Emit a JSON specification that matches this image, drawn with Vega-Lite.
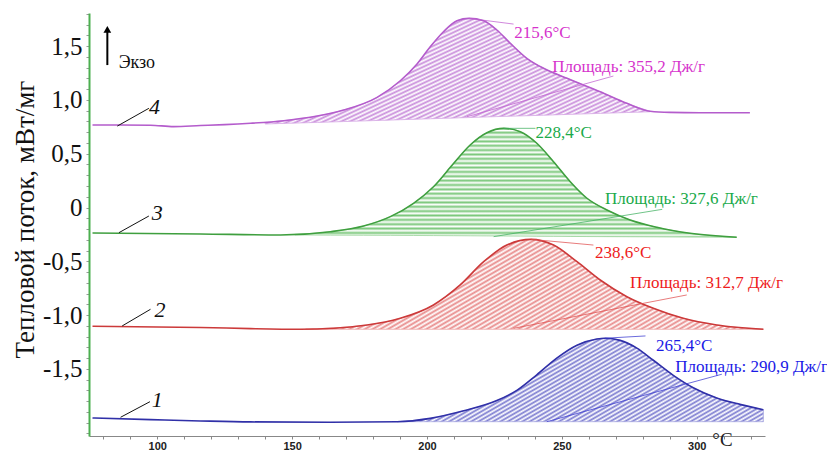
{
  "$schema": "https://vega.github.io/schema/vega-lite/v6.json",
  "width": 676,
  "height": 423,
  "autosize": {"type": "none"},
  "padding": {"left": 89, "top": 13, "right": 62, "bottom": 14},
  "background": "white",
  "config": {"view": {"stroke": null}, "font": "Liberation Serif"},
  "datasets": {
    "curves": [
      {"s":"4","T":76,"V":0.767},{"s":"4","T":86.4,"V":0.767},{"s":"4","T":97.5,"V":0.765},{"s":"4","T":106.1,"V":0.752},{"s":"4","T":116,"V":0.762},{"s":"4","T":125,"V":0.77},{"s":"4","T":134.6,"V":0.783},{"s":"4","T":146.9,"V":0.807},{"s":"4","T":159.3,"V":0.85},{"s":"4","T":169.1,"V":0.906},{"s":"4","T":181.5,"V":1.024},{"s":"4","T":190.1,"V":1.178},{"s":"4","T":196.3,"V":1.334},{"s":"4","T":201.2,"V":1.494},{"s":"4","T":206.1,"V":1.634},{"s":"4","T":211.1,"V":1.736},{"s":"4","T":215.6,"V":1.758},{"s":"4","T":221,"V":1.736},{"s":"4","T":225.9,"V":1.65},{"s":"4","T":230.9,"V":1.526},{"s":"4","T":237,"V":1.387},{"s":"4","T":243.2,"V":1.294},{"s":"4","T":251.9,"V":1.201},{"s":"4","T":264.2,"V":1.076},{"s":"4","T":274.1,"V":0.968},{"s":"4","T":282.7,"V":0.895},{"s":"4","T":290,"V":0.884},{"s":"4","T":301.2,"V":0.881},{"s":"4","T":319.7,"V":0.881},
      {"s":"3","T":76,"V":-0.237},{"s":"3","T":116,"V":-0.246},{"s":"3","T":145.7,"V":-0.255},{"s":"3","T":164.2,"V":-0.225},{"s":"3","T":176.5,"V":-0.172},{"s":"3","T":186.4,"V":-0.085},{"s":"3","T":195,"V":0.039},{"s":"3","T":202.4,"V":0.193},{"s":"3","T":209.9,"V":0.411},{"s":"3","T":216,"V":0.581},{"s":"3","T":222.2,"V":0.695},{"s":"3","T":228.4,"V":0.736},{"s":"3","T":234.6,"V":0.704},{"s":"3","T":240.7,"V":0.597},{"s":"3","T":246.9,"V":0.426},{"s":"3","T":253.1,"V":0.24},{"s":"3","T":259.3,"V":0.086},{"s":"3","T":266.7,"V":-0.023},{"s":"3","T":275.3,"V":-0.116},{"s":"3","T":285.2,"V":-0.184},{"s":"3","T":297.5,"V":-0.24},{"s":"3","T":314.8,"V":-0.277},
      {"s":"2","T":76,"V":-1.104},{"s":"2","T":116,"V":-1.115},{"s":"2","T":134.6,"V":-1.126},{"s":"2","T":153.1,"V":-1.132},{"s":"2","T":177.8,"V":-1.092},{"s":"2","T":190.1,"V":-1.03},{"s":"2","T":202.4,"V":-0.906},{"s":"2","T":212.3,"V":-0.72},{"s":"2","T":221,"V":-0.504},{"s":"2","T":229.6,"V":-0.349},{"s":"2","T":238.6,"V":-0.296},{"s":"2","T":246.9,"V":-0.349},{"s":"2","T":255.6,"V":-0.504},{"s":"2","T":264.2,"V":-0.674},{"s":"2","T":274.1,"V":-0.829},{"s":"2","T":283.9,"V":-0.937},{"s":"2","T":295,"V":-1.03},{"s":"2","T":307.4,"V":-1.092},{"s":"2","T":324.7,"V":-1.132},
      {"s":"1","T":76,"V":-1.956},{"s":"1","T":97.5,"V":-1.972},{"s":"1","T":116,"V":-1.984},{"s":"1","T":134.6,"V":-1.993},{"s":"1","T":164.2,"V":-1.996},{"s":"1","T":188.9,"V":-1.991},{"s":"1","T":201.2,"V":-1.96},{"s":"1","T":213.6,"V":-1.89},{"s":"1","T":225.9,"V":-1.795},{"s":"1","T":233.3,"V":-1.7},{"s":"1","T":240.7,"V":-1.555},{"s":"1","T":248.1,"V":-1.4},{"s":"1","T":255.6,"V":-1.28},{"s":"1","T":263,"V":-1.222},{"s":"1","T":266,"V":-1.215},{"s":"1","T":271.6,"V":-1.235},{"s":"1","T":277.8,"V":-1.307},{"s":"1","T":283.9,"V":-1.42},{"s":"1","T":291.3,"V":-1.56},{"s":"1","T":298.7,"V":-1.675},{"s":"1","T":307.4,"V":-1.77},{"s":"1","T":316,"V":-1.83},{"s":"1","T":324.7,"V":-1.88}
    ],
    "areas": [
      {"s":"4","T":140,"V":0.79,"B":0.776},{"s":"4","T":146.9,"V":0.807,"B":0.782},{"s":"4","T":159.3,"V":0.85,"B":0.791},{"s":"4","T":169.1,"V":0.906,"B":0.799},{"s":"4","T":181.5,"V":1.024,"B":0.809},{"s":"4","T":190.1,"V":1.178,"B":0.816},{"s":"4","T":196.3,"V":1.334,"B":0.821},{"s":"4","T":201.2,"V":1.494,"B":0.825},{"s":"4","T":206.1,"V":1.634,"B":0.829},{"s":"4","T":211.1,"V":1.736,"B":0.833},{"s":"4","T":215.6,"V":1.758,"B":0.836},{"s":"4","T":221,"V":1.736,"B":0.841},{"s":"4","T":225.9,"V":1.65,"B":0.845},{"s":"4","T":230.9,"V":1.526,"B":0.849},{"s":"4","T":237,"V":1.387,"B":0.853},{"s":"4","T":243.2,"V":1.294,"B":0.858},{"s":"4","T":251.9,"V":1.201,"B":0.865},{"s":"4","T":264.2,"V":1.076,"B":0.875},{"s":"4","T":274.1,"V":0.968,"B":0.883},{"s":"4","T":282.7,"V":0.895,"B":0.89},
      {"s":"3","T":151,"V":-0.25,"B":-0.255},{"s":"3","T":164.2,"V":-0.225,"B":-0.257},{"s":"3","T":176.5,"V":-0.172,"B":-0.258},{"s":"3","T":186.4,"V":-0.085,"B":-0.259},{"s":"3","T":195,"V":0.039,"B":-0.26},{"s":"3","T":202.4,"V":0.193,"B":-0.261},{"s":"3","T":209.9,"V":0.411,"B":-0.262},{"s":"3","T":216,"V":0.581,"B":-0.263},{"s":"3","T":222.2,"V":0.695,"B":-0.264},{"s":"3","T":228.4,"V":0.736,"B":-0.265},{"s":"3","T":234.6,"V":0.704,"B":-0.266},{"s":"3","T":240.7,"V":0.597,"B":-0.267},{"s":"3","T":246.9,"V":0.426,"B":-0.268},{"s":"3","T":253.1,"V":0.24,"B":-0.269},{"s":"3","T":259.3,"V":0.086,"B":-0.27},{"s":"3","T":266.7,"V":-0.023,"B":-0.271},{"s":"3","T":275.3,"V":-0.116,"B":-0.272},{"s":"3","T":285.2,"V":-0.184,"B":-0.273},{"s":"3","T":297.5,"V":-0.24,"B":-0.275},{"s":"3","T":314.8,"V":-0.277,"B":-0.277},
      {"s":"2","T":155,"V":-1.13,"B":-1.132},{"s":"2","T":177.8,"V":-1.092,"B":-1.132},{"s":"2","T":190.1,"V":-1.03,"B":-1.132},{"s":"2","T":202.4,"V":-0.906,"B":-1.132},{"s":"2","T":212.3,"V":-0.72,"B":-1.132},{"s":"2","T":221,"V":-0.504,"B":-1.132},{"s":"2","T":229.6,"V":-0.349,"B":-1.132},{"s":"2","T":238.6,"V":-0.296,"B":-1.132},{"s":"2","T":246.9,"V":-0.349,"B":-1.132},{"s":"2","T":255.6,"V":-0.504,"B":-1.132},{"s":"2","T":264.2,"V":-0.674,"B":-1.132},{"s":"2","T":274.1,"V":-0.829,"B":-1.132},{"s":"2","T":283.9,"V":-0.937,"B":-1.132},{"s":"2","T":295,"V":-1.03,"B":-1.132},{"s":"2","T":307.4,"V":-1.092,"B":-1.132},{"s":"2","T":324.7,"V":-1.132,"B":-1.132},
      {"s":"1","T":188.9,"V":-1.991,"B":-1.991},{"s":"1","T":201.2,"V":-1.96,"B":-1.991},{"s":"1","T":213.6,"V":-1.89,"B":-1.991},{"s":"1","T":225.9,"V":-1.795,"B":-1.991},{"s":"1","T":233.3,"V":-1.7,"B":-1.991},{"s":"1","T":240.7,"V":-1.555,"B":-1.991},{"s":"1","T":248.1,"V":-1.4,"B":-1.991},{"s":"1","T":255.6,"V":-1.28,"B":-1.991},{"s":"1","T":263,"V":-1.222,"B":-1.991},{"s":"1","T":266,"V":-1.215,"B":-1.991},{"s":"1","T":271.6,"V":-1.235,"B":-1.991},{"s":"1","T":277.8,"V":-1.307,"B":-1.991},{"s":"1","T":283.9,"V":-1.42,"B":-1.991},{"s":"1","T":291.3,"V":-1.56,"B":-1.991},{"s":"1","T":298.7,"V":-1.675,"B":-1.991},{"s":"1","T":307.4,"V":-1.77,"B":-1.991},{"s":"1","T":316,"V":-1.83,"B":-1.991},{"s":"1","T":324.7,"V":-1.88,"B":-1.991}
    ],
    "leaders": [
      {"s":"4","T":215.6,"V":1.758,"T2":232.1,"V2":1.705},
      {"s":"4","T":214.8,"V":0.844,"T2":269.1,"V2":1.222},
      {"s":"3","T":228.4,"V":0.736,"T2":240.2,"V2":0.736},
      {"s":"3","T":224.7,"V":-0.271,"T2":287.2,"V2":-0.017},
      {"s":"2","T":238.6,"V":-0.296,"T2":261.7,"V2":-0.349},
      {"s":"2","T":232.1,"V":-1.123,"T2":296.3,"V2":-0.813},
      {"s":"1","T":266,"V":-1.215,"T2":281,"V2":-1.194},
      {"s":"1","T":244.4,"V":-1.991,"T2":309.3,"V2":-1.55}
    ],
    "labels": [
      {"s":"4","T":232.3,"V":1.619,"text":"215,6°C"},
      {"s":"4","T":246.4,"V":1.306,"text":"Площадь: 355,2 Дж/г"},
      {"s":"3","T":240.2,"V":0.695,"text":"228,4°C"},
      {"s":"3","T":266.0,"V":0.076,"text":"Площадь: 327,6 Дж/г"},
      {"s":"2","T":262.3,"V":-0.426,"text":"238,6°C"},
      {"s":"2","T":275.3,"V":-0.705,"text":"Площадь: 312,7 Дж/г"},
      {"s":"1","T":284.9,"V":-1.284,"text":"265,4°C"},
      {"s":"1","T":292.0,"V":-1.48,"text":"Площадь: 290,9 Дж/г"}
    ],
    "numlines": [
      {"n":"4","T":85.2,"V":0.757,"T2":96.9,"V2":0.922},
      {"n":"3","T":85.8,"V":-0.234,"T2":96.9,"V2":-0.079},
      {"n":"2","T":87.0,"V":-1.101,"T2":97.5,"V2":-0.946},
      {"n":"1","T":86.4,"V":-1.95,"T2":97.3,"V2":-1.805}
    ],
    "nums": [
      {"n":"4","T":99.0,"V":0.935},
      {"n":"3","T":100.0,"V":-0.054},
      {"n":"2","T":101.0,"V":-0.953},
      {"n":"1","T":100.0,"V":-1.789}
    ],
    "exoline": [{"T":81.5,"V":1.324,"V2":1.64}],
    "exohead": [{"T":81.5,"V":1.655}],
    "exotext": [{"T":85.7,"V":1.343,"label":"Экзо"}]
  },
  "encoding": {
    "x": {"field": "T", "type": "quantitative", "scale": {"domain": [74.7, 325.3], "nice": false, "zero": false},
      "axis": {"title": "°C", "values": [80,90,100,110,120,130,140,150,160,170,180,190,200,210,220,230,240,250,260,270,280,290,300,310,320],
        "labelExpr": "datum.value % 50 === 0 ? datum.label : ''", "grid": false,
        "domainColor": "#888", "tickColor": "#888", "tickSize": 3, "labelPadding": 1,
        "labelFont": "Liberation Sans", "labelFontWeight": "bold", "labelFontSize": 11, "labelColor": "#222",
        "titleFont": "Liberation Serif", "titleFontSize": 19, "titleFontWeight": "normal", "titleColor": "#222",
        "titleX": 633, "titleY": 13, "titleAlign": "center", "titleBaseline": "bottom", "labelFlush": false, "labelOverlap": false}},
    "y": {"field": "V", "type": "quantitative", "scale": {"domain": [-2.124, 1.808], "nice": false, "zero": false},
      "axis": {"title": "Тепловой поток, мВт/мг", "values": [-2.1,-2,-1.9,-1.8,-1.7,-1.6,-1.5,-1.4,-1.3,-1.2,-1.1,-1,-0.9,-0.8,-0.7,-0.6,-0.5,-0.4,-0.3,-0.2,-0.1,0,0.1,0.2,0.3,0.4,0.5,0.6,0.7,0.8,0.9,1,1.1,1.2,1.3,1.4,1.5,1.6,1.7,1.8],
        "labelExpr": "abs(datum.value*2 - round(datum.value*2)) < 0.01 && abs(datum.value) < 1.6 ? (abs(datum.value) < 0.01 ? '0' : (datum.value < 0 ? '-' : '') + replace(format(abs(datum.value), '.1f'), '.', ',')) : ''",
        "grid": false, "domainColor": "#4caf50", "domainWidth": 2, "tickColor": "#999", "tickSize": 3, "labelPadding": 4,
        "labelFont": "Liberation Serif", "labelFontSize": 25, "labelColor": "#111", "labelOverlap": false, "labelFlush": false,
        "titleFont": "Liberation Serif", "titleFontSize": 27, "titleFontWeight": "normal", "titleColor": "#111",
        "titleX": -64, "titleY": 206, "titleAngle": -90, "titleAlign": "center", "titleBaseline": "middle"}}
  },
  "layer": [
    {
      "data": {"name": "areas"},
      "transform": [{"filter": "datum.s === '4'"}],
      "mark": {"type": "area", "interpolate": "monotone", "stroke": "#d6a8e4", "strokeWidth": 0.8,
        "fill": {"gradient": "linear", "x1": 0, "y1": 0, "x2": 1.18, "y2": 0.694, "stops": [
          {"offset":0,"color":"#c98ddb"},{"offset":0.0071,"color":"#fff"},{"offset":0.0143,"color":"#c98ddb"},{"offset":0.0214,"color":"#fff"},{"offset":0.0286,"color":"#c98ddb"},{"offset":0.0357,"color":"#fff"},{"offset":0.0429,"color":"#c98ddb"},{"offset":0.05,"color":"#fff"},{"offset":0.0571,"color":"#c98ddb"},{"offset":0.0643,"color":"#fff"},{"offset":0.0714,"color":"#c98ddb"},{"offset":0.0786,"color":"#fff"},{"offset":0.0857,"color":"#c98ddb"},{"offset":0.0929,"color":"#fff"},
          {"offset":0.1,"color":"#c98ddb"},{"offset":0.1071,"color":"#fff"},{"offset":0.1143,"color":"#c98ddb"},{"offset":0.1214,"color":"#fff"},{"offset":0.1286,"color":"#c98ddb"},{"offset":0.1357,"color":"#fff"},{"offset":0.1429,"color":"#c98ddb"},{"offset":0.15,"color":"#fff"},{"offset":0.1571,"color":"#c98ddb"},{"offset":0.1643,"color":"#fff"},{"offset":0.1714,"color":"#c98ddb"},{"offset":0.1786,"color":"#fff"},{"offset":0.1857,"color":"#c98ddb"},{"offset":0.1929,"color":"#fff"},
          {"offset":0.2,"color":"#c98ddb"},{"offset":0.2071,"color":"#fff"},{"offset":0.2143,"color":"#c98ddb"},{"offset":0.2214,"color":"#fff"},{"offset":0.2286,"color":"#c98ddb"},{"offset":0.2357,"color":"#fff"},{"offset":0.2429,"color":"#c98ddb"},{"offset":0.25,"color":"#fff"},{"offset":0.2571,"color":"#c98ddb"},{"offset":0.2643,"color":"#fff"},{"offset":0.2714,"color":"#c98ddb"},{"offset":0.2786,"color":"#fff"},{"offset":0.2857,"color":"#c98ddb"},{"offset":0.2929,"color":"#fff"},
          {"offset":0.3,"color":"#c98ddb"},{"offset":0.3071,"color":"#fff"},{"offset":0.3143,"color":"#c98ddb"},{"offset":0.3214,"color":"#fff"},{"offset":0.3286,"color":"#c98ddb"},{"offset":0.3357,"color":"#fff"},{"offset":0.3429,"color":"#c98ddb"},{"offset":0.35,"color":"#fff"},{"offset":0.3571,"color":"#c98ddb"},{"offset":0.3643,"color":"#fff"},{"offset":0.3714,"color":"#c98ddb"},{"offset":0.3786,"color":"#fff"},{"offset":0.3857,"color":"#c98ddb"},{"offset":0.3929,"color":"#fff"},
          {"offset":0.4,"color":"#c98ddb"},{"offset":0.4071,"color":"#fff"},{"offset":0.4143,"color":"#c98ddb"},{"offset":0.4214,"color":"#fff"},{"offset":0.4286,"color":"#c98ddb"},{"offset":0.4357,"color":"#fff"},{"offset":0.4429,"color":"#c98ddb"},{"offset":0.45,"color":"#fff"},{"offset":0.4571,"color":"#c98ddb"},{"offset":0.4643,"color":"#fff"},{"offset":0.4714,"color":"#c98ddb"},{"offset":0.4786,"color":"#fff"},{"offset":0.4857,"color":"#c98ddb"},{"offset":0.4929,"color":"#fff"},
          {"offset":0.5,"color":"#c98ddb"},{"offset":0.5071,"color":"#fff"},{"offset":0.5143,"color":"#c98ddb"},{"offset":0.5214,"color":"#fff"},{"offset":0.5286,"color":"#c98ddb"},{"offset":0.5357,"color":"#fff"},{"offset":0.5429,"color":"#c98ddb"},{"offset":0.55,"color":"#fff"},{"offset":0.5571,"color":"#c98ddb"},{"offset":0.5643,"color":"#fff"},{"offset":0.5714,"color":"#c98ddb"},{"offset":0.5786,"color":"#fff"},{"offset":0.5857,"color":"#c98ddb"},{"offset":0.5929,"color":"#fff"},
          {"offset":0.6,"color":"#c98ddb"},{"offset":0.6071,"color":"#fff"},{"offset":0.6143,"color":"#c98ddb"},{"offset":0.6214,"color":"#fff"},{"offset":0.6286,"color":"#c98ddb"},{"offset":0.6357,"color":"#fff"},{"offset":0.6429,"color":"#c98ddb"},{"offset":0.65,"color":"#fff"},{"offset":0.6571,"color":"#c98ddb"},{"offset":0.6643,"color":"#fff"},{"offset":0.6714,"color":"#c98ddb"},{"offset":0.6786,"color":"#fff"},{"offset":0.6857,"color":"#c98ddb"},{"offset":0.6929,"color":"#fff"},
          {"offset":0.7,"color":"#c98ddb"},{"offset":0.7071,"color":"#fff"},{"offset":0.7143,"color":"#c98ddb"},{"offset":0.7214,"color":"#fff"},{"offset":0.7286,"color":"#c98ddb"},{"offset":0.7357,"color":"#fff"},{"offset":0.7429,"color":"#c98ddb"},{"offset":0.75,"color":"#fff"},{"offset":0.7571,"color":"#c98ddb"},{"offset":0.7643,"color":"#fff"},{"offset":0.7714,"color":"#c98ddb"},{"offset":0.7786,"color":"#fff"},{"offset":0.7857,"color":"#c98ddb"},{"offset":0.7929,"color":"#fff"},
          {"offset":0.8,"color":"#c98ddb"},{"offset":0.8071,"color":"#fff"},{"offset":0.8143,"color":"#c98ddb"},{"offset":0.8214,"color":"#fff"},{"offset":0.8286,"color":"#c98ddb"},{"offset":0.8357,"color":"#fff"},{"offset":0.8429,"color":"#c98ddb"},{"offset":0.85,"color":"#fff"},{"offset":0.8571,"color":"#c98ddb"},{"offset":0.8643,"color":"#fff"},{"offset":0.8714,"color":"#c98ddb"},{"offset":0.8786,"color":"#fff"},{"offset":0.8857,"color":"#c98ddb"},{"offset":0.8929,"color":"#fff"},
          {"offset":0.9,"color":"#c98ddb"},{"offset":0.9071,"color":"#fff"},{"offset":0.9143,"color":"#c98ddb"},{"offset":0.9214,"color":"#fff"},{"offset":0.9286,"color":"#c98ddb"},{"offset":0.9357,"color":"#fff"},{"offset":0.9429,"color":"#c98ddb"},{"offset":0.95,"color":"#fff"},{"offset":0.9571,"color":"#c98ddb"},{"offset":0.9643,"color":"#fff"},{"offset":0.9714,"color":"#c98ddb"},{"offset":0.9786,"color":"#fff"},{"offset":0.9857,"color":"#c98ddb"},{"offset":0.9929,"color":"#fff"},
          {"offset":1,"color":"#c98ddb"}]}},
      "encoding": {"y2": {"field": "B"}}
    },
    {
      "data": {"name": "areas"},
      "transform": [{"filter": "datum.s === '3'"}],
      "mark": {"type": "area", "interpolate": "monotone", "stroke": "#9bd49b", "strokeWidth": 0.8,
        "fill": {"gradient": "linear", "x1": 0, "y1": 0, "x2": 0, "y2": 1, "stops": [
          {"offset":0,"color":"#7cc87c"},{"offset":0.02,"color":"#fff"},{"offset":0.04,"color":"#7cc87c"},{"offset":0.06,"color":"#fff"},{"offset":0.08,"color":"#7cc87c"},{"offset":0.1,"color":"#fff"},{"offset":0.12,"color":"#7cc87c"},{"offset":0.14,"color":"#fff"},{"offset":0.16,"color":"#7cc87c"},{"offset":0.18,"color":"#fff"},
          {"offset":0.2,"color":"#7cc87c"},{"offset":0.22,"color":"#fff"},{"offset":0.24,"color":"#7cc87c"},{"offset":0.26,"color":"#fff"},{"offset":0.28,"color":"#7cc87c"},{"offset":0.3,"color":"#fff"},{"offset":0.32,"color":"#7cc87c"},{"offset":0.34,"color":"#fff"},{"offset":0.36,"color":"#7cc87c"},{"offset":0.38,"color":"#fff"},
          {"offset":0.4,"color":"#7cc87c"},{"offset":0.42,"color":"#fff"},{"offset":0.44,"color":"#7cc87c"},{"offset":0.46,"color":"#fff"},{"offset":0.48,"color":"#7cc87c"},{"offset":0.5,"color":"#fff"},{"offset":0.52,"color":"#7cc87c"},{"offset":0.54,"color":"#fff"},{"offset":0.56,"color":"#7cc87c"},{"offset":0.58,"color":"#fff"},
          {"offset":0.6,"color":"#7cc87c"},{"offset":0.62,"color":"#fff"},{"offset":0.64,"color":"#7cc87c"},{"offset":0.66,"color":"#fff"},{"offset":0.68,"color":"#7cc87c"},{"offset":0.7,"color":"#fff"},{"offset":0.72,"color":"#7cc87c"},{"offset":0.74,"color":"#fff"},{"offset":0.76,"color":"#7cc87c"},{"offset":0.78,"color":"#fff"},
          {"offset":0.8,"color":"#7cc87c"},{"offset":0.82,"color":"#fff"},{"offset":0.84,"color":"#7cc87c"},{"offset":0.86,"color":"#fff"},{"offset":0.88,"color":"#7cc87c"},{"offset":0.9,"color":"#fff"},{"offset":0.92,"color":"#7cc87c"},{"offset":0.94,"color":"#fff"},{"offset":0.96,"color":"#7cc87c"},{"offset":0.98,"color":"#fff"},
          {"offset":1,"color":"#7cc87c"}]}},
      "encoding": {"y2": {"field": "B"}}
    },
    {
      "data": {"name": "areas"},
      "transform": [{"filter": "datum.s === '2'"}],
      "mark": {"type": "area", "interpolate": "monotone", "stroke": "#eeaaaa", "strokeWidth": 0.8,
        "fill": {"gradient": "linear", "x1": 0, "y1": 0, "x2": 1.2016, "y2": 0.4087, "stops": [
          {"offset":0,"color":"#e88a8a"},{"offset":0.00625,"color":"#fff"},{"offset":0.0125,"color":"#e88a8a"},{"offset":0.01875,"color":"#fff"},{"offset":0.025,"color":"#e88a8a"},{"offset":0.03125,"color":"#fff"},{"offset":0.0375,"color":"#e88a8a"},{"offset":0.04375,"color":"#fff"},{"offset":0.05,"color":"#e88a8a"},{"offset":0.05625,"color":"#fff"},{"offset":0.0625,"color":"#e88a8a"},{"offset":0.06875,"color":"#fff"},{"offset":0.075,"color":"#e88a8a"},{"offset":0.08125,"color":"#fff"},{"offset":0.0875,"color":"#e88a8a"},{"offset":0.09375,"color":"#fff"},
          {"offset":0.1,"color":"#e88a8a"},{"offset":0.10625,"color":"#fff"},{"offset":0.1125,"color":"#e88a8a"},{"offset":0.11875,"color":"#fff"},{"offset":0.125,"color":"#e88a8a"},{"offset":0.13125,"color":"#fff"},{"offset":0.1375,"color":"#e88a8a"},{"offset":0.14375,"color":"#fff"},{"offset":0.15,"color":"#e88a8a"},{"offset":0.15625,"color":"#fff"},{"offset":0.1625,"color":"#e88a8a"},{"offset":0.16875,"color":"#fff"},{"offset":0.175,"color":"#e88a8a"},{"offset":0.18125,"color":"#fff"},{"offset":0.1875,"color":"#e88a8a"},{"offset":0.19375,"color":"#fff"},
          {"offset":0.2,"color":"#e88a8a"},{"offset":0.20625,"color":"#fff"},{"offset":0.2125,"color":"#e88a8a"},{"offset":0.21875,"color":"#fff"},{"offset":0.225,"color":"#e88a8a"},{"offset":0.23125,"color":"#fff"},{"offset":0.2375,"color":"#e88a8a"},{"offset":0.24375,"color":"#fff"},{"offset":0.25,"color":"#e88a8a"},{"offset":0.25625,"color":"#fff"},{"offset":0.2625,"color":"#e88a8a"},{"offset":0.26875,"color":"#fff"},{"offset":0.275,"color":"#e88a8a"},{"offset":0.28125,"color":"#fff"},{"offset":0.2875,"color":"#e88a8a"},{"offset":0.29375,"color":"#fff"},
          {"offset":0.3,"color":"#e88a8a"},{"offset":0.30625,"color":"#fff"},{"offset":0.3125,"color":"#e88a8a"},{"offset":0.31875,"color":"#fff"},{"offset":0.325,"color":"#e88a8a"},{"offset":0.33125,"color":"#fff"},{"offset":0.3375,"color":"#e88a8a"},{"offset":0.34375,"color":"#fff"},{"offset":0.35,"color":"#e88a8a"},{"offset":0.35625,"color":"#fff"},{"offset":0.3625,"color":"#e88a8a"},{"offset":0.36875,"color":"#fff"},{"offset":0.375,"color":"#e88a8a"},{"offset":0.38125,"color":"#fff"},{"offset":0.3875,"color":"#e88a8a"},{"offset":0.39375,"color":"#fff"},
          {"offset":0.4,"color":"#e88a8a"},{"offset":0.40625,"color":"#fff"},{"offset":0.4125,"color":"#e88a8a"},{"offset":0.41875,"color":"#fff"},{"offset":0.425,"color":"#e88a8a"},{"offset":0.43125,"color":"#fff"},{"offset":0.4375,"color":"#e88a8a"},{"offset":0.44375,"color":"#fff"},{"offset":0.45,"color":"#e88a8a"},{"offset":0.45625,"color":"#fff"},{"offset":0.4625,"color":"#e88a8a"},{"offset":0.46875,"color":"#fff"},{"offset":0.475,"color":"#e88a8a"},{"offset":0.48125,"color":"#fff"},{"offset":0.4875,"color":"#e88a8a"},{"offset":0.49375,"color":"#fff"},
          {"offset":0.5,"color":"#e88a8a"},{"offset":0.50625,"color":"#fff"},{"offset":0.5125,"color":"#e88a8a"},{"offset":0.51875,"color":"#fff"},{"offset":0.525,"color":"#e88a8a"},{"offset":0.53125,"color":"#fff"},{"offset":0.5375,"color":"#e88a8a"},{"offset":0.54375,"color":"#fff"},{"offset":0.55,"color":"#e88a8a"},{"offset":0.55625,"color":"#fff"},{"offset":0.5625,"color":"#e88a8a"},{"offset":0.56875,"color":"#fff"},{"offset":0.575,"color":"#e88a8a"},{"offset":0.58125,"color":"#fff"},{"offset":0.5875,"color":"#e88a8a"},{"offset":0.59375,"color":"#fff"},
          {"offset":0.6,"color":"#e88a8a"},{"offset":0.60625,"color":"#fff"},{"offset":0.6125,"color":"#e88a8a"},{"offset":0.61875,"color":"#fff"},{"offset":0.625,"color":"#e88a8a"},{"offset":0.63125,"color":"#fff"},{"offset":0.6375,"color":"#e88a8a"},{"offset":0.64375,"color":"#fff"},{"offset":0.65,"color":"#e88a8a"},{"offset":0.65625,"color":"#fff"},{"offset":0.6625,"color":"#e88a8a"},{"offset":0.66875,"color":"#fff"},{"offset":0.675,"color":"#e88a8a"},{"offset":0.68125,"color":"#fff"},{"offset":0.6875,"color":"#e88a8a"},{"offset":0.69375,"color":"#fff"},
          {"offset":0.7,"color":"#e88a8a"},{"offset":0.70625,"color":"#fff"},{"offset":0.7125,"color":"#e88a8a"},{"offset":0.71875,"color":"#fff"},{"offset":0.725,"color":"#e88a8a"},{"offset":0.73125,"color":"#fff"},{"offset":0.7375,"color":"#e88a8a"},{"offset":0.74375,"color":"#fff"},{"offset":0.75,"color":"#e88a8a"},{"offset":0.75625,"color":"#fff"},{"offset":0.7625,"color":"#e88a8a"},{"offset":0.76875,"color":"#fff"},{"offset":0.775,"color":"#e88a8a"},{"offset":0.78125,"color":"#fff"},{"offset":0.7875,"color":"#e88a8a"},{"offset":0.79375,"color":"#fff"},
          {"offset":0.8,"color":"#e88a8a"},{"offset":0.80625,"color":"#fff"},{"offset":0.8125,"color":"#e88a8a"},{"offset":0.81875,"color":"#fff"},{"offset":0.825,"color":"#e88a8a"},{"offset":0.83125,"color":"#fff"},{"offset":0.8375,"color":"#e88a8a"},{"offset":0.84375,"color":"#fff"},{"offset":0.85,"color":"#e88a8a"},{"offset":0.85625,"color":"#fff"},{"offset":0.8625,"color":"#e88a8a"},{"offset":0.86875,"color":"#fff"},{"offset":0.875,"color":"#e88a8a"},{"offset":0.88125,"color":"#fff"},{"offset":0.8875,"color":"#e88a8a"},{"offset":0.89375,"color":"#fff"},
          {"offset":0.9,"color":"#e88a8a"},{"offset":0.90625,"color":"#fff"},{"offset":0.9125,"color":"#e88a8a"},{"offset":0.91875,"color":"#fff"},{"offset":0.925,"color":"#e88a8a"},{"offset":0.93125,"color":"#fff"},{"offset":0.9375,"color":"#e88a8a"},{"offset":0.94375,"color":"#fff"},{"offset":0.95,"color":"#e88a8a"},{"offset":0.95625,"color":"#fff"},{"offset":0.9625,"color":"#e88a8a"},{"offset":0.96875,"color":"#fff"},{"offset":0.975,"color":"#e88a8a"},{"offset":0.98125,"color":"#fff"},{"offset":0.9875,"color":"#e88a8a"},{"offset":0.99375,"color":"#fff"},
          {"offset":1,"color":"#e88a8a"}]}},
      "encoding": {"y2": {"field": "B"}}
    },
    {
      "data": {"name": "areas"},
      "transform": [{"filter": "datum.s === '1'"}],
      "mark": {"type": "area", "interpolate": "monotone", "stroke": "#a8a8e0", "strokeWidth": 0.8,
        "fill": {"gradient": "linear", "x1": 0, "y1": 0, "x2": 1.207, "y2": 0.48, "stops": [
          {"offset":0,"color":"#7b7bd0"},{"offset":0.0071,"color":"#fff"},{"offset":0.0143,"color":"#7b7bd0"},{"offset":0.0214,"color":"#fff"},{"offset":0.0286,"color":"#7b7bd0"},{"offset":0.0357,"color":"#fff"},{"offset":0.0429,"color":"#7b7bd0"},{"offset":0.05,"color":"#fff"},{"offset":0.0571,"color":"#7b7bd0"},{"offset":0.0643,"color":"#fff"},{"offset":0.0714,"color":"#7b7bd0"},{"offset":0.0786,"color":"#fff"},{"offset":0.0857,"color":"#7b7bd0"},{"offset":0.0929,"color":"#fff"},
          {"offset":0.1,"color":"#7b7bd0"},{"offset":0.1071,"color":"#fff"},{"offset":0.1143,"color":"#7b7bd0"},{"offset":0.1214,"color":"#fff"},{"offset":0.1286,"color":"#7b7bd0"},{"offset":0.1357,"color":"#fff"},{"offset":0.1429,"color":"#7b7bd0"},{"offset":0.15,"color":"#fff"},{"offset":0.1571,"color":"#7b7bd0"},{"offset":0.1643,"color":"#fff"},{"offset":0.1714,"color":"#7b7bd0"},{"offset":0.1786,"color":"#fff"},{"offset":0.1857,"color":"#7b7bd0"},{"offset":0.1929,"color":"#fff"},
          {"offset":0.2,"color":"#7b7bd0"},{"offset":0.2071,"color":"#fff"},{"offset":0.2143,"color":"#7b7bd0"},{"offset":0.2214,"color":"#fff"},{"offset":0.2286,"color":"#7b7bd0"},{"offset":0.2357,"color":"#fff"},{"offset":0.2429,"color":"#7b7bd0"},{"offset":0.25,"color":"#fff"},{"offset":0.2571,"color":"#7b7bd0"},{"offset":0.2643,"color":"#fff"},{"offset":0.2714,"color":"#7b7bd0"},{"offset":0.2786,"color":"#fff"},{"offset":0.2857,"color":"#7b7bd0"},{"offset":0.2929,"color":"#fff"},
          {"offset":0.3,"color":"#7b7bd0"},{"offset":0.3071,"color":"#fff"},{"offset":0.3143,"color":"#7b7bd0"},{"offset":0.3214,"color":"#fff"},{"offset":0.3286,"color":"#7b7bd0"},{"offset":0.3357,"color":"#fff"},{"offset":0.3429,"color":"#7b7bd0"},{"offset":0.35,"color":"#fff"},{"offset":0.3571,"color":"#7b7bd0"},{"offset":0.3643,"color":"#fff"},{"offset":0.3714,"color":"#7b7bd0"},{"offset":0.3786,"color":"#fff"},{"offset":0.3857,"color":"#7b7bd0"},{"offset":0.3929,"color":"#fff"},
          {"offset":0.4,"color":"#7b7bd0"},{"offset":0.4071,"color":"#fff"},{"offset":0.4143,"color":"#7b7bd0"},{"offset":0.4214,"color":"#fff"},{"offset":0.4286,"color":"#7b7bd0"},{"offset":0.4357,"color":"#fff"},{"offset":0.4429,"color":"#7b7bd0"},{"offset":0.45,"color":"#fff"},{"offset":0.4571,"color":"#7b7bd0"},{"offset":0.4643,"color":"#fff"},{"offset":0.4714,"color":"#7b7bd0"},{"offset":0.4786,"color":"#fff"},{"offset":0.4857,"color":"#7b7bd0"},{"offset":0.4929,"color":"#fff"},
          {"offset":0.5,"color":"#7b7bd0"},{"offset":0.5071,"color":"#fff"},{"offset":0.5143,"color":"#7b7bd0"},{"offset":0.5214,"color":"#fff"},{"offset":0.5286,"color":"#7b7bd0"},{"offset":0.5357,"color":"#fff"},{"offset":0.5429,"color":"#7b7bd0"},{"offset":0.55,"color":"#fff"},{"offset":0.5571,"color":"#7b7bd0"},{"offset":0.5643,"color":"#fff"},{"offset":0.5714,"color":"#7b7bd0"},{"offset":0.5786,"color":"#fff"},{"offset":0.5857,"color":"#7b7bd0"},{"offset":0.5929,"color":"#fff"},
          {"offset":0.6,"color":"#7b7bd0"},{"offset":0.6071,"color":"#fff"},{"offset":0.6143,"color":"#7b7bd0"},{"offset":0.6214,"color":"#fff"},{"offset":0.6286,"color":"#7b7bd0"},{"offset":0.6357,"color":"#fff"},{"offset":0.6429,"color":"#7b7bd0"},{"offset":0.65,"color":"#fff"},{"offset":0.6571,"color":"#7b7bd0"},{"offset":0.6643,"color":"#fff"},{"offset":0.6714,"color":"#7b7bd0"},{"offset":0.6786,"color":"#fff"},{"offset":0.6857,"color":"#7b7bd0"},{"offset":0.6929,"color":"#fff"},
          {"offset":0.7,"color":"#7b7bd0"},{"offset":0.7071,"color":"#fff"},{"offset":0.7143,"color":"#7b7bd0"},{"offset":0.7214,"color":"#fff"},{"offset":0.7286,"color":"#7b7bd0"},{"offset":0.7357,"color":"#fff"},{"offset":0.7429,"color":"#7b7bd0"},{"offset":0.75,"color":"#fff"},{"offset":0.7571,"color":"#7b7bd0"},{"offset":0.7643,"color":"#fff"},{"offset":0.7714,"color":"#7b7bd0"},{"offset":0.7786,"color":"#fff"},{"offset":0.7857,"color":"#7b7bd0"},{"offset":0.7929,"color":"#fff"},
          {"offset":0.8,"color":"#7b7bd0"},{"offset":0.8071,"color":"#fff"},{"offset":0.8143,"color":"#7b7bd0"},{"offset":0.8214,"color":"#fff"},{"offset":0.8286,"color":"#7b7bd0"},{"offset":0.8357,"color":"#fff"},{"offset":0.8429,"color":"#7b7bd0"},{"offset":0.85,"color":"#fff"},{"offset":0.8571,"color":"#7b7bd0"},{"offset":0.8643,"color":"#fff"},{"offset":0.8714,"color":"#7b7bd0"},{"offset":0.8786,"color":"#fff"},{"offset":0.8857,"color":"#7b7bd0"},{"offset":0.8929,"color":"#fff"},
          {"offset":0.9,"color":"#7b7bd0"},{"offset":0.9071,"color":"#fff"},{"offset":0.9143,"color":"#7b7bd0"},{"offset":0.9214,"color":"#fff"},{"offset":0.9286,"color":"#7b7bd0"},{"offset":0.9357,"color":"#fff"},{"offset":0.9429,"color":"#7b7bd0"},{"offset":0.95,"color":"#fff"},{"offset":0.9571,"color":"#7b7bd0"},{"offset":0.9643,"color":"#fff"},{"offset":0.9714,"color":"#7b7bd0"},{"offset":0.9786,"color":"#fff"},{"offset":0.9857,"color":"#7b7bd0"},{"offset":0.9929,"color":"#fff"},
          {"offset":1,"color":"#7b7bd0"}]}},
      "encoding": {"y2": {"field": "B"}}
    },
    {
      "data": {"name": "curves"},
      "mark": {"type": "line", "interpolate": "monotone", "strokeWidth": 1.6},
      "encoding": {
        "color": {"field": "s", "type": "nominal", "legend": null,
          "scale": {"domain": ["1","2","3","4"], "range": ["#3030a8", "#cc3a3a", "#3f9f3f", "#b45ccc"]}}
      }
    },
    {
      "data": {"name": "leaders"},
      "mark": {"type": "rule", "strokeWidth": 1, "opacity": 0.75},
      "encoding": {
        "x2": {"field": "T2"},
        "y2": {"field": "V2"},
        "color": {"field": "s", "type": "nominal", "legend": null,
          "scale": {"domain": ["1","2","3","4"], "range": ["#3a3ad0", "#e05050", "#40b060", "#c060d0"]}}
      }
    },
    {
      "data": {"name": "labels"},
      "mark": {"type": "text", "align": "left", "baseline": "middle", "font": "Liberation Serif", "fontSize": 17},
      "encoding": {
        "text": {"field": "text"},
        "color": {"field": "s", "type": "nominal", "legend": null,
          "scale": {"domain": ["1","2","3","4"], "range": ["#1a1ae6", "#ee1c1c", "#1aaa4a", "#d633cc"]}}
      }
    },
    {
      "data": {"name": "numlines"},
      "mark": {"type": "rule", "strokeWidth": 1, "color": "#111"},
      "encoding": {
        "x2": {"field": "T2"},
        "y2": {"field": "V2"}
      }
    },
    {
      "data": {"name": "nums"},
      "mark": {"type": "text", "align": "center", "baseline": "middle", "font": "Liberation Serif", "fontSize": 22, "fontStyle": "italic", "color": "#111"},
      "encoding": {
        "text": {"field": "n"}
      }
    },
    {
      "data": {"name": "exoline"},
      "mark": {"type": "rule", "strokeWidth": 2, "color": "#000"},
      "encoding": {
        "y2": {"field": "V2"}
      }
    },
    {
      "data": {"name": "exohead"},
      "mark": {"type": "point", "shape": "triangle-up", "filled": true, "size": 60, "color": "#000", "opacity": 1},
      "encoding": {}
    },
    {
      "data": {"name": "exotext"},
      "mark": {"type": "text", "align": "left", "baseline": "middle", "font": "Liberation Serif", "fontSize": 18, "color": "#111"},
      "encoding": {
        "text": {"field": "label"}
      }
    }
  ],
  "resolve": {"scale": {"color": "independent"}}
}
